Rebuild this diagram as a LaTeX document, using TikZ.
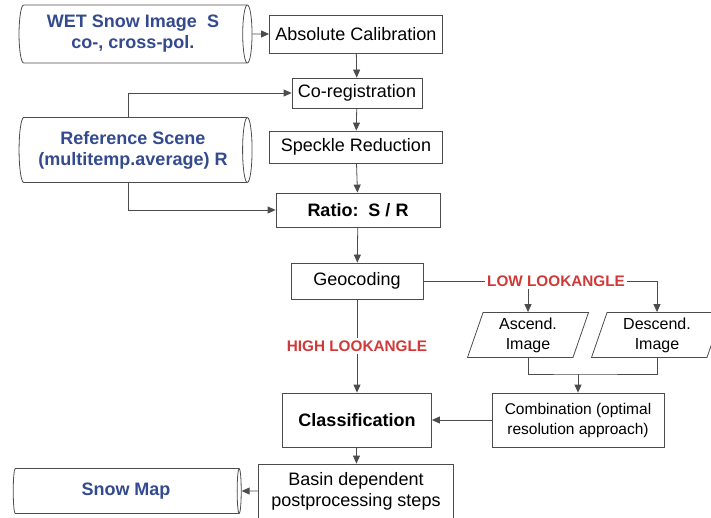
\documentclass[tikz,border=0pt]{standalone}
\usepackage{fontspec}
\setmainfont{Liberation Sans}
\usetikzlibrary{positioning, shapes.geometric, arrows.meta}
\definecolor{boxgray}{rgb}{0.3, 0.3, 0.3}
\definecolor{mapblue}{rgb}{0.2, 0.29, 0.56}
\definecolor{anglered}{rgb}{0.82, 0.22, 0.22}

\begin{document}
\begin{tikzpicture}[x=1pt, y=-1pt, >={Triangle[length=8pt, width=7pt]},
    every node/.style={font=\fontsize{18}{21}\selectfont},
    box/.style={draw=boxgray, line width=0.8pt, inner sep=0pt, align=center},
    tube/.style={draw=boxgray, line width=0.8pt, cylinder, aspect=0.25,
        inner sep=0pt, align=center, text=mapblue,
        font=\bfseries\fontsize{18}{21}\selectfont},
    slanted/.style={draw=boxgray, line width=0.8pt, trapezium,
        trapezium left angle=66, trapezium right angle=114,
        trapezium stretches body, inner sep=0pt, align=center,
        font=\fontsize{16}{20}\selectfont},
    lookangle/.style={font=\bfseries\fontsize{15.3}{17}\selectfont,
        text=anglered, inner sep=2pt},
    link/.style={draw=boxgray, line width=0.8pt}]
    \useasboundingbox (0, 0) rectangle (711, 517);
    \clip (0, 0) rectangle (711, 517);
    % inputs and first steps
    \node[tube, minimum height=233, minimum width=58] (wet) at (133, 34)
        {WET Snow Image\ \ S\\co-, cross-pol.};
    \node[box, minimum width=173, minimum height=38] (abs) at (356, 34)
        {Absolute Calibration};
    \node[box, minimum width=130, minimum height=30] (coreg) at (357, 93)
        {Co-registration};
    \node[tube, minimum height=233, minimum width=65] (ref) at (133, 150)
        {Reference Scene\\(multitemp.average) R};
    \node[box, minimum width=173, minimum height=32] (speckle) at (356, 147)
        {Speckle Reduction};
    \node[box, minimum width=164, minimum height=34,
        font=\bfseries\fontsize{18}{21}\selectfont] (ratio) at (358, 210)
        {Ratio:\ \ S / R};
    \node[box, minimum width=132, minimum height=36] (geo) at (357, 281)
        {Geocoding};
    % look angle branches
    \node[lookangle] (low) at (556, 281) {LOW LOOKANGLE};
    \node[lookangle] (high) at (357, 346) {HIGH LOOKANGLE};
    \node[slanted, minimum width=121, minimum height=45] (asc) at (528, 335)
        {Ascend.\\Image};
    \node[slanted, minimum width=131, minimum height=45] (desc) at (657, 335)
        {Descend.\\Image};
    \node[box, minimum width=172, minimum height=54,
        font=\fontsize{15.5}{20}\selectfont] (comb) at (578, 420)
        {Combination (optimal\\resolution approach)};
    \node[box, minimum width=149, minimum height=54,
        font=\bfseries\fontsize{18}{21}\selectfont] (class) at (357, 420)
        {Classification};
    \node[box, minimum width=195, minimum height=54] (basin) at (356, 491)
        {Basin dependent\\postprocessing steps};
    \node[tube, minimum height=228, minimum width=45] (map) at (126, 491)
        {Snow Map};
    \coordinate (join) at (578, 374);
    % connectors
    \draw[link, ->] (wet.east) -- (abs.west);
    \draw[link, ->] (abs) -- (coreg);
    \draw[link, ->] ([xshift=-5pt]ref.north) |- (coreg.west);
    \draw[link, ->] (coreg) -- (speckle);
    \draw[link, ->] (speckle) -- (ratio);
    \draw[link, ->] ([xshift=-5pt]ref.south) |- (ratio.west);
    \draw[link, ->] (ratio) -- (geo);
    \draw[link] (geo) -- (low);
    \draw[link, ->] (low.east) -| (desc.north);
    \draw[link, ->] (asc.north |- low.south) -- (asc.north);
    \draw[link] (geo) -- (high);
    \draw[link, ->] (high) -- (class);
    \draw[link] (asc.south) |- (join) -| (desc.south);
    \draw[link, ->] (join) -- (comb.north);
    \draw[link, ->] (comb) -- (class);
    \draw[link, ->] (class) -- (basin);
    \draw[link, ->] (basin) -- (map);
\end{tikzpicture}
\end{document}
